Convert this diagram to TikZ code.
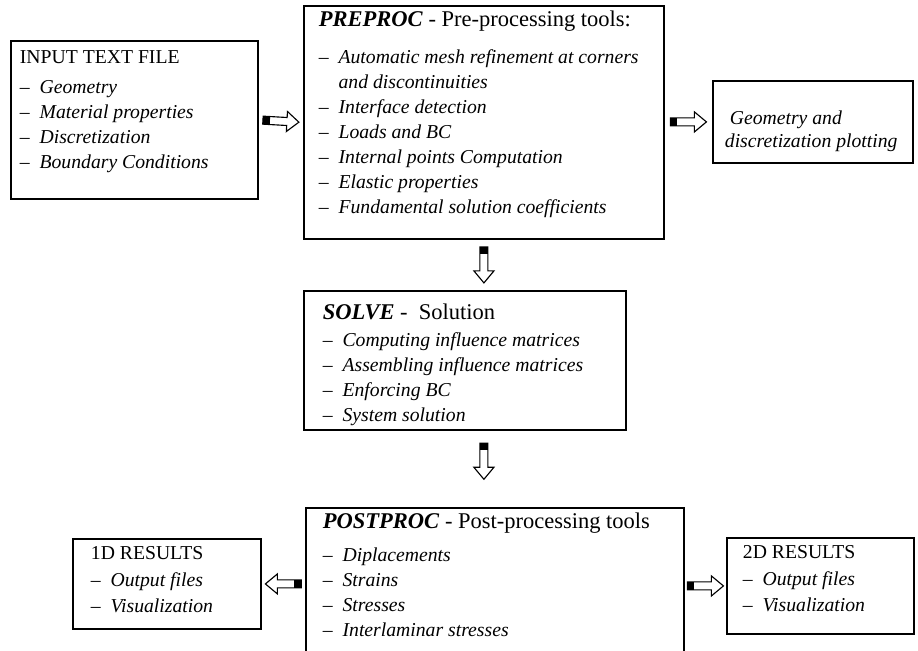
\documentclass[tikz,border=0pt]{standalone}
\usepackage{fontspec}
\setmainfont{Liberation Serif}
\usetikzlibrary{positioning, calc}
\newlength\unitpx
\setlength\unitpx{0.025cm}
\newcommand{\itm}[1]{\textendash\hspace{.5em}\textit{#1}}
\newcommand{\cont}[1]{\phantom{\textendash}\hspace{.5em}\textit{#1}}
\newcommand{\head}[2]{{\fontsize{16}{19}\selectfont\textbf{\textit{#1}} - #2}}
\tikzset{
  blk/.style={draw, line width=1.3pt, anchor=north west, inner ysep=6\unitpx, inner xsep=9\unitpx, font=\fontsize{14}{17.8}\selectfont},
  barrow/.pic={
    \draw[line width=0.8pt, fill=white] (-18,-4) -- (6,-4) -- (6,-10) -- (18,0) -- (6,10) -- (6,4) -- (-18,4) -- cycle;
    \fill (-18,-4) rectangle (-11,4);
  }
}

\begin{document}
\begin{tikzpicture}[x=\unitpx, y=-\unitpx]
\useasboundingbox (0,0) rectangle (918,650);

\node[blk, inner ysep=10\unitpx] (input) at (10,40) {\parbox[t][138\unitpx][t]{229\unitpx}{INPUT TEXT FILE\\[5\unitpx]
  \itm{Geometry}\\ \itm{Material properties}\\ \itm{Discretization}\\ \itm{Boundary Conditions}}};

\node[blk, inner xsep=15\unitpx, inner ysep=5\unitpx] (preproc) at (303,5) {\parbox[t][223\unitpx][t]{330\unitpx}{\head{PREPROC}{Pre-processing tools:}\\[12\unitpx]
  \itm{Automatic mesh refinement at corners}\\ \cont{and discontinuities}\\ \itm{Interface detection}\\ \itm{Loads and BC}\\
  \itm{Internal points Computation}\\ \itm{Elastic properties}\\ \itm{Fundamental solution coefficients}}};

\node[blk, inner xsep=12\unitpx, inner ysep=30\unitpx] (geom) at (712,80) {\parbox[t][22\unitpx][t]{176\unitpx}{\textit{\ Geometry and}\\[-2\unitpx] \textit{discretization plotting}}};

\node[blk, inner xsep=19\unitpx, inner ysep=13\unitpx] (solve) at (303,290) {\parbox[t][113\unitpx][t]{284\unitpx}{\head{SOLVE}{\ Solution}\\[2\unitpx]
  \itm{Computing influence matrices}\\ \itm{Assembling influence matrices}\\ \itm{Enforcing BC}\\ \itm{System solution}}};

\node[blk, inner xsep=17\unitpx, inner ysep=5\unitpx] (postproc) at (305,507) {\parbox[t][150\unitpx][t]{344\unitpx}{\head{POSTPROC}{Post-processing tools}\\[8\unitpx]
  \itm{Diplacements}\\ \itm{Strains}\\ \itm{Stresses}\\ \itm{Interlaminar stresses}}};

\node[blk, inner xsep=18\unitpx, inner ysep=8\unitpx] (res1d) at (72,538) {\parbox[t][74\unitpx][t]{152\unitpx}{1D RESULTS\\[2\unitpx]
  \itm{Output files}\\ \itm{Visualization}}};

\node[blk, inner xsep=16\unitpx, inner ysep=8\unitpx] (res2d) at (726,537) {\parbox[t][80\unitpx][t]{155\unitpx}{2D RESULTS\\[2\unitpx]
  \itm{Output files}\\ \itm{Visualization}}};

\path (input.east) -- (preproc.west) pic[pos=.5, sloped] {barrow};
\path (preproc.east |- geom.west) -- (geom.west) pic[pos=.5, sloped] {barrow};
\path (preproc.south) -- (preproc.south |- solve.north) pic[pos=.5, sloped] {barrow};
\path (solve.south -| preproc.south) -- (preproc.south |- postproc.north) pic[pos=.4, sloped] {barrow};
\path (postproc.west |- res1d.east) -- (res1d.east) pic[pos=.5, sloped, allow upside down] {barrow};
\path (postproc.east |- res2d.west) -- (res2d.west) pic[pos=.5, sloped] {barrow};
\end{tikzpicture}
\end{document}
